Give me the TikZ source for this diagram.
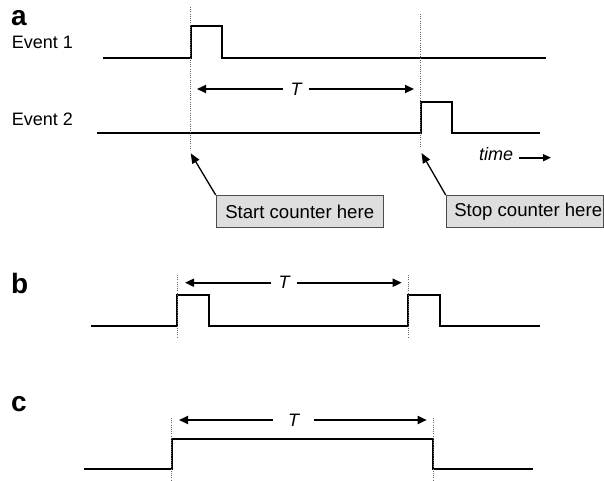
\documentclass[tikz,border=0pt]{standalone}
\usepackage{fontspec}
\setmainfont{Liberation Sans}
\usetikzlibrary{
    arrows.meta,
    positioning
}

\tikzset{
    wave/.style={line width=2.3pt, line join=miter},
    guide/.style={black!60, line width=0.8pt, dash pattern=on 1pt off 1.2pt},
    span/.style={line width=1.8pt, -{Triangle[length=9pt,width=8pt]}},
    pointer/.style={line width=1.3pt, -{Triangle[length=10pt,width=8pt]}},
    labelbox/.style={draw=black!70, fill=black!13, line width=1pt,
        minimum height=32.3pt, inner xsep=0pt,
        font=\fontsize{18.6}{20}\selectfont},
    panel/.style={font=\fontsize{28}{30}\selectfont\bfseries,
        anchor=base west, inner sep=0pt},
    eventlabel/.style={font=\fontsize{18}{20}\selectfont,
        anchor=base west, inner sep=0pt},
    spanlabel/.style={font=\fontsize{18}{20}\selectfont\itshape, inner ysep=0pt}
}

\begin{document}
\begin{tikzpicture}[x=1pt,y=-1pt]

\useasboundingbox (0,0) rectangle (604,480);

% Panel labels
\node[panel] (pa) at (11,25) {a};
\node[panel] (pb) at (11,293) {b};
\node[panel] (pc) at (11,411.7) {c};

\node[eventlabel] (ev1) at (11.6,48.3) {Event 1};
\node[eventlabel] (ev2) at (11.6,125) {Event 2};

% Event 1 waveform
\draw[wave]
(103,57.7) --
(190.7,57.7) --
(190.7,26) --
(221.7,26) --
(221.7,57.7) --
(545.7,57.7);

% Event 2 waveform
\draw[wave]
(97,132.7) --
(420.7,132.7) --
(420.7,101.7) --
(452.3,101.7) --
(452.3,132.7) --
(540,132.7);

% b waveform
\draw[wave]
(91,325.7) --
(177.3,325.7) --
(177.3,294.7) --
(209,294.7) --
(209,325.7) --
(408.3,325.7) --
(408.3,294.7) --
(440,294.7) --
(440,325.7) --
(540,325.7);

% c waveform
\draw[wave]
(84.3,469.3) --
(171.7,469.3) --
(171.7,439) --
(433.3,439) --
(433.3,469.3) --
(532.7,469.3);

% Guides
\foreach \x/\ya/\yb in {190.7/7/150, 420.7/14/148,
    177.3/275/336.7, 408.3/275/336.7,
    171.7/418/480, 433.3/418/480}{
    \draw[guide] (\x,\ya) -- (\x,\yb);
}

% T spans
\node[spanlabel, inner xsep=7pt] (Ta) at (296,89) {T};
\coordinate (Ta-l) at (197,89);
\coordinate (Ta-r) at (414,89);
\draw[span] (Ta.west) -- (Ta-l);
\draw[span] (Ta.east) -- (Ta-r);

\node[spanlabel, inner xsep=7pt] (Tb) at (284,282.7) {T};
\coordinate (Tb-l) at (185,282.7);
\coordinate (Tb-r) at (401.7,282.7);
\draw[span] (Tb.west) -- (Tb-l);
\draw[span] (Tb.east) -- (Tb-r);

\node[spanlabel, inner xsep=15pt] (Tc) at (293.5,420) {T};
\coordinate (Tc-l) at (179,420);
\coordinate (Tc-r) at (426.7,420);
\draw[span] (Tc.west) -- (Tc-l);
\draw[span] (Tc.east) -- (Tc-r);

% time axis
\node[spanlabel, anchor=base west, inner sep=0pt] (time) at (479,160) {time};
\coordinate (time-r) at (551,157.7);
\draw[line width=1.6pt, -{Triangle[length=8pt,width=7pt]}]
    ([shift={(6,-2.3)}]time.base east) -- (time-r);

% Counter boxes
\node[labelbox, minimum width=167pt, anchor=north west] (start) at (215.7,195) {Start counter here};
\node[labelbox, minimum width=157pt, anchor=north west] (stop) at (445.7,195) {\hspace*{7pt}Stop counter here};

\coordinate (start-tip) at (190.7,153.3);
\coordinate (stop-tip) at (421.5,153);
\draw[pointer] (start.north west) -- (start-tip);
\draw[pointer] (stop.north west) -- (stop-tip);

\end{tikzpicture}
\end{document}
